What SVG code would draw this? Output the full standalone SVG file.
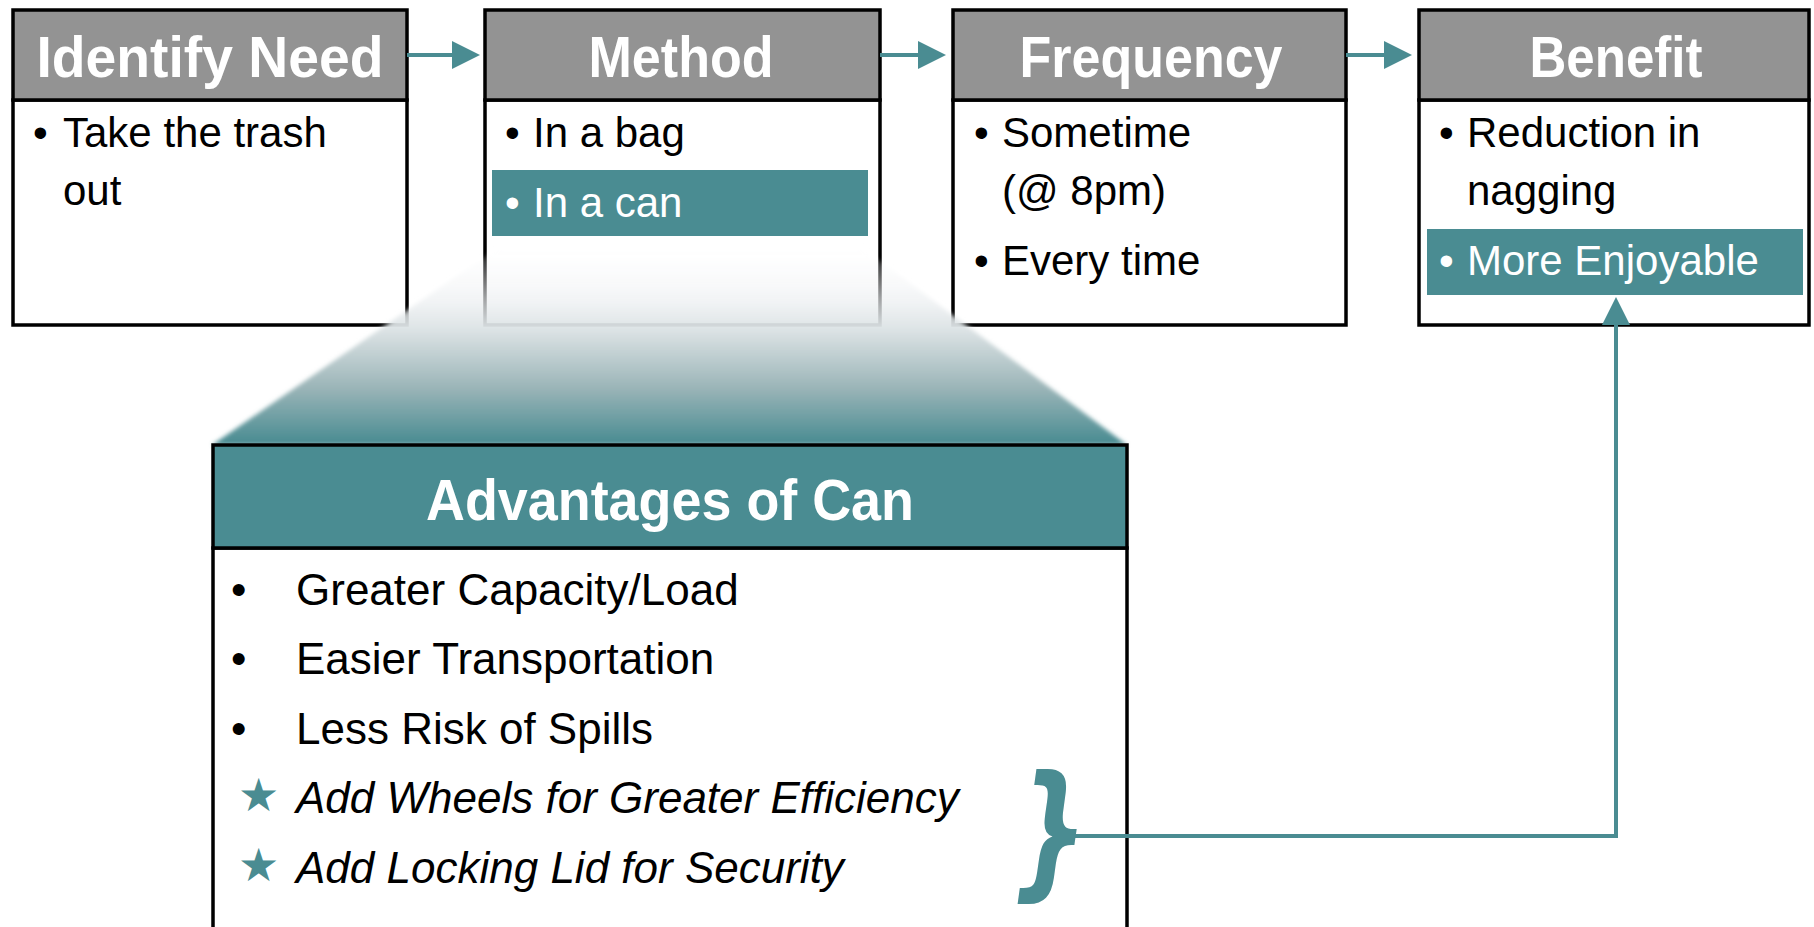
<svg xmlns="http://www.w3.org/2000/svg" width="1814" height="927" viewBox="0 0 1814 927">
<style>
.hdr{fill:#939393;stroke:#000;stroke-width:3.5}
.body{fill:#fff;stroke:#000;stroke-width:3.5}
.hl{fill:#4a8c92}
.ht{font-family:"Liberation Sans",Arial,sans-serif;font-weight:bold;font-size:58px;fill:#fff;text-anchor:middle}
.bt{font-family:"Liberation Sans",Arial,sans-serif;font-size:42px;fill:#000}
.wt{fill:#fff}
.at{font-family:"Liberation Sans",Arial,sans-serif;font-size:44px;fill:#000}
.it{font-style:italic}
.star{font-family:"DejaVu Sans",sans-serif;font-size:46px;fill:#4a8c92}
.conn{stroke:#4a8c92;stroke-width:4;fill:none}
</style>
<defs>
<marker id="arr" viewBox="0 0 28 28" refX="2" refY="14" markerWidth="28" markerHeight="28" markerUnits="userSpaceOnUse" orient="auto">
<path d="M0,0 L28,14 L0,28 z" fill="#4a8c92"/>
</marker>
<linearGradient id="fade" gradientUnits="userSpaceOnUse" x1="0" y1="240" x2="0" y2="443">
<stop offset="0" stop-color="#ffffff" stop-opacity="0"/>
<stop offset="0.3" stop-color="#eceff1" stop-opacity="0.7"/>
<stop offset="0.45" stop-color="#dbe2e4" stop-opacity="1"/>
<stop offset="0.72" stop-color="#9db6b9"/>
<stop offset="1" stop-color="#4a8c92"/>
</linearGradient>
<filter id="soft" x="-5%" y="-5%" width="110%" height="110%"><feGaussianBlur stdDeviation="2"/></filter>
</defs>
<rect width="1814" height="927" fill="#fff"/>

<g id="identify-need">
<rect class="body" x="13" y="100" width="394" height="225"/>
<rect class="hdr" x="13" y="10" width="394" height="90"/>
<text class="ht" x="210" y="77" textLength="347" lengthAdjust="spacingAndGlyphs">Identify Need</text>
<text class="bt" x="33" y="147">•</text>
<text class="bt" x="63" y="147">Take the trash</text>
<text class="bt" x="63" y="205">out</text>
</g>

<g id="method">
<rect class="body" x="485" y="100" width="395" height="225"/>
<rect class="hdr" x="485" y="10" width="395" height="90"/>
<text class="ht" x="681" y="77" textLength="185" lengthAdjust="spacingAndGlyphs">Method</text>
<text class="bt" x="505" y="147">•</text>
<text class="bt" x="533" y="147">In a bag</text>
<rect class="hl" x="492" y="170" width="376" height="66"/>
<text class="bt wt" x="505" y="217">•</text>
<text class="bt wt" x="533" y="217">In a can</text>
</g>

<g id="frequency">
<rect class="body" x="953" y="100" width="393" height="225"/>
<rect class="hdr" x="953" y="10" width="393" height="90"/>
<text class="ht" x="1151" y="77" textLength="263" lengthAdjust="spacingAndGlyphs">Frequency</text>
<text class="bt" x="974" y="147">•</text>
<text class="bt" x="1002" y="147">Sometime</text>
<text class="bt" x="1002" y="205">(@ 8pm)</text>
<text class="bt" x="974" y="275">•</text>
<text class="bt" x="1002" y="275">Every time</text>
</g>

<g id="benefit">
<rect class="body" x="1419" y="100" width="390" height="225"/>
<rect class="hdr" x="1419" y="10" width="390" height="90"/>
<text class="ht" x="1616" y="77" textLength="173" lengthAdjust="spacingAndGlyphs">Benefit</text>
<text class="bt" x="1439" y="147">•</text>
<text class="bt" x="1467" y="147">Reduction in</text>
<text class="bt" x="1467" y="205">nagging</text>
<rect class="hl" x="1427" y="229" width="376" height="66"/>
<text class="bt wt" x="1439" y="275">•</text>
<text class="bt wt" x="1467" y="275">More Enjoyable</text>
</g>

<g id="zoom-fan">
<path d="M509,240 L852,240 L1127,445 L212,445 Z" fill="url(#fade)" filter="url(#soft)"/>
</g>

<g id="advantages-of-can">
<rect class="body" x="213" y="548" width="914" height="400"/>
<rect class="hdr" x="213" y="445" width="914" height="103" style="fill:#4a8c92"/>
<text class="ht" x="670" y="520" textLength="488" lengthAdjust="spacingAndGlyphs">Advantages of Can</text>
<text class="at" x="231" y="605">•</text>
<text class="at" x="296" y="605">Greater Capacity/Load</text>
<text class="at" x="231" y="674">•</text>
<text class="at" x="296" y="674">Easier Transportation</text>
<text class="at" x="231" y="744">•</text>
<text class="at" x="296" y="744">Less Risk of Spills</text>
<text class="star" x="238" y="811">★</text>
<text class="at it" x="296" y="813">Add Wheels for Greater Efficiency</text>
<text class="star" x="238" y="881">★</text>
<text class="at it" x="296" y="883">Add Locking Lid for Security</text>
</g>

<g id="brace">
<text transform="translate(1013,880) scale(0.72,1)" x="0" y="0" font-family="DejaVu Sans, sans-serif" font-size="146" font-weight="bold" font-style="oblique" fill="#4a8c92">}</text>
</g>

<g id="connectors">
<line class="conn" x1="407" y1="55" x2="454" y2="55" marker-end="url(#arr)"/>
<line class="conn" x1="880" y1="55" x2="920" y2="55" marker-end="url(#arr)"/>
<line class="conn" x1="1346" y1="55" x2="1386" y2="55" marker-end="url(#arr)"/>
<polyline class="conn" points="1066,836 1616,836 1616,323" marker-end="url(#arr)"/>
</g>
</svg>
